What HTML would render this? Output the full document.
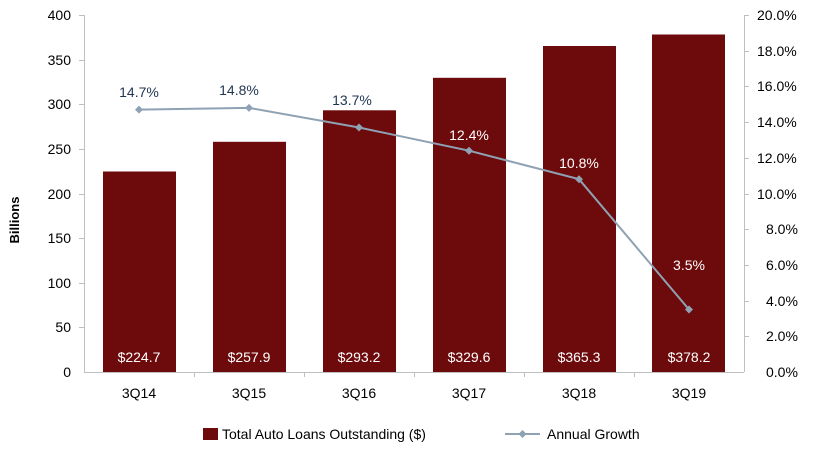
<!DOCTYPE html>
<html><head><style>body{margin:0;background:#fff}</style></head><body>
<svg width="815" height="450" xmlns="http://www.w3.org/2000/svg" font-family="Liberation Sans, sans-serif" font-size="13">
<g stroke="#bfbfbf" stroke-width="1">
<line x1="84.5" y1="15" x2="84.5" y2="372"/>
<line x1="744.5" y1="15" x2="744.5" y2="372"/>
<line x1="84" y1="372.5" x2="744" y2="372.5"/>
<g id="lt">
<line x1="79" y1="15.5" x2="84" y2="15.5"/><line x1="79" y1="60.5" x2="84" y2="60.5"/><line x1="79" y1="104.5" x2="84" y2="104.5"/><line x1="79" y1="149.5" x2="84" y2="149.5"/><line x1="79" y1="194.5" x2="84" y2="194.5"/><line x1="79" y1="238.5" x2="84" y2="238.5"/><line x1="79" y1="283.5" x2="84" y2="283.5"/><line x1="79" y1="327.5" x2="84" y2="327.5"/>
</g>
<line x1="744" y1="15.5" x2="749" y2="15.5"/><line x1="744" y1="51.5" x2="749" y2="51.5"/><line x1="744" y1="86.5" x2="749" y2="86.5"/><line x1="744" y1="122.5" x2="749" y2="122.5"/><line x1="744" y1="158.5" x2="749" y2="158.5"/><line x1="744" y1="194.5" x2="749" y2="194.5"/><line x1="744" y1="229.5" x2="749" y2="229.5"/><line x1="744" y1="265.5" x2="749" y2="265.5"/><line x1="744" y1="301.5" x2="749" y2="301.5"/><line x1="744" y1="336.5" x2="749" y2="336.5"/>
<line x1="194.5" y1="372" x2="194.5" y2="377"/><line x1="304.5" y1="372" x2="304.5" y2="377"/><line x1="414.5" y1="372" x2="414.5" y2="377"/><line x1="524.5" y1="372" x2="524.5" y2="377"/><line x1="634.5" y1="372" x2="634.5" y2="377"/>
</g>
<g text-anchor="end" fill="#000" font-size="14">
<text x="71" y="20">400</text><text x="71" y="65">350</text><text x="71" y="109">300</text><text x="71" y="154">250</text><text x="71" y="199">200</text><text x="71" y="243">150</text><text x="71" y="288">100</text><text x="71" y="332">50</text><text x="71" y="377">0</text>
</g>
<g fill="#000" font-size="14">
<text x="757" y="20">20.0%</text><text x="757" y="56">18.0%</text><text x="757" y="91">16.0%</text><text x="757" y="127">14.0%</text><text x="757" y="163">12.0%</text><text x="757" y="199">10.0%</text><text x="766" y="234">8.0%</text><text x="766" y="270">6.0%</text><text x="766" y="306">4.0%</text><text x="766" y="341">2.0%</text><text x="766" y="377">0.0%</text>
</g>
<text transform="translate(19,220) rotate(-90)" text-anchor="middle" font-weight="bold" font-size="13">Billions</text>
<g fill="#6d0a0c">
<rect x="103" y="171.5" width="73" height="200.5"/>
<rect x="213" y="141.8" width="73" height="230.2"/>
<rect x="323" y="110.3" width="73" height="261.7"/>
<rect x="433" y="77.8" width="73" height="294.2"/>
<rect x="543" y="46" width="73" height="326"/>
<rect x="652" y="34.5" width="73" height="337.5"/>
</g>
<g fill="#fff" text-anchor="middle" font-size="14">
<text x="139" y="362">$224.7</text><text x="249" y="362">$257.9</text><text x="359" y="362">$293.2</text><text x="469" y="362">$329.6</text><text x="579" y="362">$365.3</text><text x="689" y="362">$378.2</text>
</g>
<g text-anchor="middle" font-size="14" fill="#000">
<text x="139" y="398">3Q14</text><text x="249" y="398">3Q15</text><text x="359" y="398">3Q16</text><text x="469" y="398">3Q17</text><text x="579" y="398">3Q18</text><text x="689" y="398">3Q19</text>
</g>
<polyline points="139,109.6 249,107.9 359,127.5 469,150.7 579,179.2 689,309.5" fill="none" stroke="#8ea2b4" stroke-width="2"/>
<g fill="#8ea2b4">
<path d="M139,105.6l4,4l-4,4l-4,-4z"/><path d="M249,103.9l4,4l-4,4l-4,-4z"/><path d="M359,123.5l4,4l-4,4l-4,-4z"/><path d="M469,146.7l4,4l-4,4l-4,-4z"/><path d="M579,175.2l4,4l-4,4l-4,-4z"/><path d="M689,305.5l4,4l-4,4l-4,-4z"/>
</g>
<g text-anchor="middle" font-size="14">
<text x="139" y="97" fill="#1f3350">14.7%</text><text x="239" y="95" fill="#1f3350">14.8%</text><text x="352" y="105" fill="#1f3350">13.7%</text>
<text x="469" y="140" fill="#fff">12.4%</text><text x="579" y="168" fill="#fff">10.8%</text><text x="689" y="270" fill="#fff">3.5%</text>
</g>
<rect x="203" y="428" width="15" height="12" fill="#6d0a0c"/>
<text x="222" y="439" font-size="14">Total Auto Loans Outstanding ($)</text>
<line x1="505" y1="434" x2="540" y2="434" stroke="#8ea2b4" stroke-width="2"/>
<path d="M522.5,430l4,4l-4,4l-4,-4z" fill="#8ea2b4"/>
<text x="547" y="439" font-size="14">Annual Growth</text>
</svg>
</body></html>
